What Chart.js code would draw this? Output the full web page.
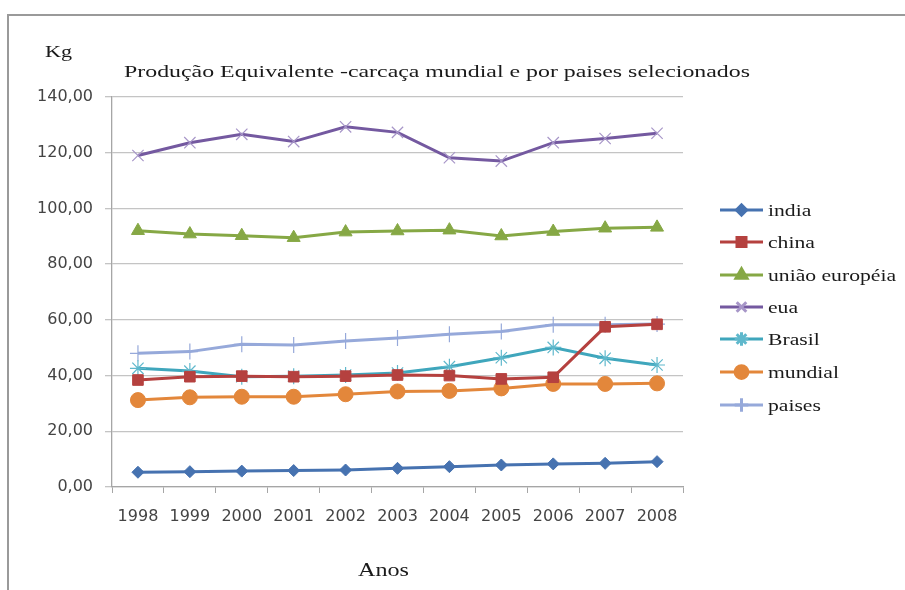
<!DOCTYPE html>
<html>
<head>
<meta charset="utf-8">
<script src="https://cdn.jsdelivr.net/npm/chart.js@4.4.1/dist/chart.umd.min.js"></script>
<style>
  html, body { margin: 0; padding: 0; background: #ffffff; }
  canvas { display: block; }
</style>
</head>
<body>
<canvas id="c" width="905" height="590"></canvas>
<script>
// Anos (eixo X)
const years = ['1998', '1999', '2000', '2001', '2002', '2003', '2004', '2005', '2006', '2007', '2008'];

// Produção equivalente-carcaça (kg) por série
const india   = [5.3, 5.5, 5.7, 5.9, 6.1, 6.7, 7.3, 7.9, 8.3, 8.5, 9.1];
const china   = [38.4, 39.6, 39.8, 39.6, 39.8, 40.2, 40.0, 38.8, 39.4, 57.5, 58.4];
const uniao   = [92.0, 90.8, 90.2, 89.5, 91.5, 91.9, 92.2, 90.1, 91.7, 92.9, 93.2];
const eua     = [119.0, 123.6, 126.6, 124.0, 129.3, 127.3, 118.2, 117.0, 123.6, 125.1, 127.0];
const brasil  = [42.6, 41.6, 39.6, 39.8, 40.2, 40.9, 43.2, 46.4, 50.1, 46.2, 43.8];
const mundial = [31.2, 32.2, 32.4, 32.4, 33.3, 34.3, 34.5, 35.4, 37.0, 37.0, 37.2];
const paises  = [48.0, 48.6, 51.2, 51.0, 52.4, 53.5, 54.8, 55.8, 58.2, 58.2, 58.5];

// Eixo Y
const yMin = 0, yMax = 140, yStep = 20;

const titleText = 'Produção Equivalente -carcaça mundial e por paises selecionados';
const yUnitText = 'Kg';
const xTitleText = 'Anos';

const SERIF = '"Liberation Serif", "DejaVu Serif", serif';
const SANS = '"DejaVu Sans", "Liberation Sans", sans-serif';

function series(label, data, color, style, radius, extra) {
  return Object.assign({
    label: label,
    data: data,
    borderColor: color,
    backgroundColor: color,
    pointBackgroundColor: color,
    pointBorderColor: color,
    pointStyle: style,
    pointRadius: radius,
    pointHoverRadius: radius,
    pointBorderWidth: 1,
    borderWidth: 3,
    tension: 0,
    fill: false
  }, extra || {});
}

const datasets = [
  series('india', india, '#4672B0', 'rectRot', 6),
  series('china', china, '#B5413F', 'rect', 7.5),
  series('união européia', uniao, '#86A845', 'triangle', 7.5),
  series('eua', eua, '#7459A0', 'crossRot', 8, { pointBorderColor: '#A796C8', pointBorderWidth: 1.2 }),
  series('Brasil', brasil, '#3FA6BC', 'star', 8, { pointBorderColor: '#5FB8CC', pointBorderWidth: 1.2 }),
  series('mundial', mundial, '#E3873B', 'circle', 7.5),
  series('paises', paises, '#96A9DA', 'cross', 8, { pointBorderWidth: 1.2 })
];

// Draws text squeezed or stretched horizontally to a given width
function drawFitted(ctx, text, x, baseline, font, width) {
  ctx.save();
  ctx.font = font;
  ctx.textAlign = 'left';
  ctx.textBaseline = 'alphabetic';
  const w = ctx.measureText(text).width;
  const s = width / w;
  ctx.translate(x, baseline);
  ctx.scale(s, 1);
  ctx.fillText(text, 0, 0);
  ctx.restore();
}

const decor = {
  id: 'decor',
  beforeDraw(chart) {
    const ctx = chart.ctx;
    ctx.save();
    ctx.fillStyle = '#ffffff';
    ctx.fillRect(0, 0, chart.width, chart.height);
    // moldura do gráfico
    ctx.strokeStyle = '#9a9a9a';
    ctx.lineWidth = 2;
    ctx.beginPath();
    ctx.moveTo(8, chart.height + 2);
    ctx.lineTo(8, 15);
    ctx.lineTo(chart.width + 2, 15);
    ctx.stroke();
    ctx.restore();
  },
  afterDraw(chart) {
    const ctx = chart.ctx;
    ctx.save();
    ctx.fillStyle = '#1a1a1a';
    drawFitted(ctx, yUnitText, 45, 57, '17px ' + SERIF, 27);
    drawFitted(ctx, titleText, 124, 77, '17px ' + SERIF, 626);
    drawFitted(ctx, xTitleText, 358, 576, '18px ' + SERIF, 51);

    // legenda
    const lx0 = 720, lx1 = 763, tx = 768;
    const rows = [210, 242, 275, 307, 339, 372, 405];
    ctx.font = '17px ' + SERIF;
    const ref = ctx.measureText('união européia').width;
    const sx = 128 / ref;
    chart.data.datasets.forEach((ds, i) => {
      const y = rows[i];
      ctx.strokeStyle = ds.borderColor;
      ctx.lineWidth = 3;
      ctx.beginPath();
      ctx.moveTo(lx0, y);
      ctx.lineTo(lx1, y);
      ctx.stroke();
      ctx.fillStyle = ds.pointBackgroundColor;
      ctx.strokeStyle = ds.pointBorderColor;
      Chart.helpers.drawPoint(ctx, {
        pointStyle: ds.pointStyle,
        radius: ds.pointRadius * 0.85,
        borderWidth: ds.pointBorderWidth,
        rotation: 0
      }, (lx0 + lx1) / 2, y);
      ctx.save();
      ctx.fillStyle = '#1a1a1a';
      ctx.font = '17px ' + SERIF;
      ctx.textBaseline = 'alphabetic';
      ctx.translate(tx, y + 6);
      ctx.scale(sx, 1);
      ctx.fillText(ds.label, 0, 0);
      ctx.restore();
    });
    ctx.restore();
  }
};

new Chart(document.getElementById('c'), {
  type: 'line',
  data: { labels: years, datasets: datasets },
  plugins: [decor],
  options: {
    responsive: false,
    animation: false,
    devicePixelRatio: 1,
    layout: { padding: { left: 0, top: 97, right: 222, bottom: 63 } },
    plugins: {
      legend: { display: false },
      title: { display: false },
      tooltip: { enabled: false }
    },
    scales: {
      x: {
        type: 'category',
        offset: true,
        afterFit(scale) { scale.height = 40; },
        grid: {
          offset: true,
          drawOnChartArea: false,
          drawTicks: true,
          tickLength: 6,
          color: '#a6a6a6',
          lineWidth: 1
        },
        border: { color: '#a6a6a6', width: 1.3 },
        ticks: {
          color: '#444444',
          font: { family: SANS, size: 16 },
          padding: 14,
          maxRotation: 0,
          autoSkip: false
        }
      },
      y: {
        min: yMin,
        max: yMax,
        afterFit(scale) { scale.width = 112; },
        grid: {
          color: '#c4c4c4',
          lineWidth: 1.3,
          drawTicks: true,
          tickLength: 7
        },
        border: { color: '#a6a6a6', width: 1.3 },
        ticks: {
          stepSize: yStep,
          color: '#444444',
          font: { family: SANS, size: 16 },
          padding: 12,
          callback: (v) => Number(v).toFixed(2).replace('.', ',')
        }
      }
    }
  }
});
</script>
</body>
</html>
